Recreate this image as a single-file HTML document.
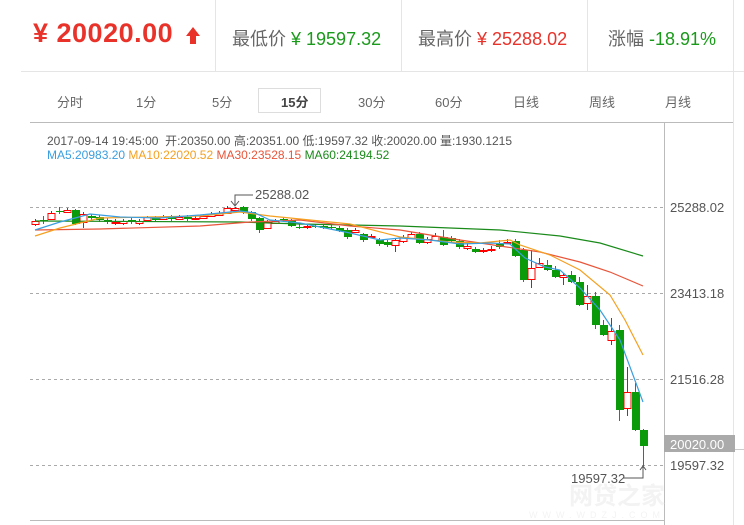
<!DOCTYPE html>
<html><head><meta charset="utf-8"><style>
body{margin:0;width:744px;height:525px;overflow:hidden;background:#fff;font-family:"Liberation Sans","Noto Sans CJK SC",sans-serif;position:relative}
.a{position:absolute;white-space:nowrap}
</style></head><body>
<svg width="744" height="525" style="position:absolute;left:0;top:0" id="s">
<line x1="21" y1="71.5" x2="744" y2="71.5" stroke="#e5e5e5"/>
<line x1="215.5" y1="0" x2="215.5" y2="71" stroke="#e5e5e5"/>
<line x1="401.5" y1="0" x2="401.5" y2="71" stroke="#e5e5e5"/>
<line x1="587.5" y1="0" x2="587.5" y2="71" stroke="#e5e5e5"/>
<line x1="733.5" y1="0" x2="733.5" y2="525" stroke="#e5e5e5"/>
<rect x="258.5" y="88.5" width="62" height="24" fill="#fff" stroke="#ddd"/>
<line x1="30" y1="122.5" x2="733" y2="122.5" stroke="#bbb"/>
<line x1="664.5" y1="122" x2="664.5" y2="525" stroke="#bbb"/>
<line x1="30" y1="520.5" x2="664" y2="520.5" stroke="#bbb"/>
<g stroke="#aaa" stroke-dasharray="3,3">
<line x1="30" y1="207.5" x2="664" y2="207.5"/><line x1="30" y1="293.5" x2="664" y2="293.5"/>
<line x1="30" y1="379.5" x2="664" y2="379.5"/><line x1="30" y1="465.5" x2="664" y2="465.5"/></g>
<rect x="664" y="435" width="71" height="17" fill="#aaa"/>
<line x1="735" y1="449.5" x2="744" y2="449.5" stroke="#ccc"/>
<polygon points="186,36 193,27 200,36 196,36 196,44 190,44 190,36" fill="#e8322a"/>
<g id="c"></g>
<g fill="none" stroke-width="1.2">
<polyline stroke="#1a8a1a" points="35,221 240,222 300,224 400,226 500,230 560,236 600,243 643,256"/>
<polyline stroke="#e8553a" points="35,230 100,229 200,226 250,222 300,220 350,226 400,230 460,240 500,246 540,252 580,262 610,272 643,286"/>
<polyline stroke="#f5a020" points="35,236 60,228 100,218 150,217 200,216 240,212 270,216 300,219 350,224 400,237 450,242 480,243 510,240 520,245 550,255 580,270 610,295 625,320 643,355"/>
<polyline stroke="#3a9ee0" points="35,230 60,222 90,214 120,217 160,218 200,215 240,211 255,213 270,220 300,223 350,233 380,240 400,238 430,240 460,244 490,243 510,244 525,258 545,267 560,270 580,288 600,310 620,340 643,402"/>
</g>
<polyline points="235,205 235,195 253,195" fill="none" stroke="#555"/>
<polyline points="231,201 235,206 239,201" fill="none" stroke="#555"/>
<polyline points="623,478 643,478 643,467" fill="none" stroke="#555"/>
<polyline points="640,470 643,466 646,470" fill="none" stroke="#555"/>
<text x="665" y="504" font-size="24" font-weight="bold" fill="#f3f3f3" font-family="Noto Sans CJK SC,sans-serif" text-anchor="end">网贷之家</text>
<text x="665" y="518" font-size="9" fill="#f3f3f3" text-anchor="end" letter-spacing="5">WWW.WDZJ.COM</text>
</svg>
<div class="a" style="left:33px;top:18px;font-size:27px;font-weight:bold;color:#e8322a;letter-spacing:0.5px">¥ 20020.00</div>
<div class="a" style="left:232px;top:25px;font-size:18px;color:#666">最低价 <span style="color:#1a9a1a">¥ 19597.32</span></div>
<div class="a" style="left:418px;top:25px;font-size:18px;color:#666">最高价 <span style="color:#e8322a">¥ 25288.02</span></div>
<div class="a" style="left:608px;top:25px;font-size:18px;color:#666">涨幅 <span style="color:#1a9a1a">-18.91%</span></div>
<div style="position:absolute;top:92px;font-size:13px;color:#666">
<span class="a" style="left:57px">分时</span><span class="a" style="left:136px">1分</span><span class="a" style="left:212px">5分</span><span class="a" style="left:281px;font-weight:bold;color:#444">15分</span><span class="a" style="left:358px">30分</span><span class="a" style="left:435px">60分</span><span class="a" style="left:513px">日线</span><span class="a" style="left:589px">周线</span><span class="a" style="left:665px">月线</span></div>
<div class="a" style="left:47px;top:132px;font-size:12px;color:#555">2017-09-14 19:45:00 &nbsp;开:20350.00 高:20351.00 低:19597.32 收:20020.00 量:1930.1215</div>
<div class="a" style="left:47px;top:148px;font-size:12px"><span style="color:#3a9ee0">MA5:20983.20</span> <span style="color:#f5a020">MA10:22020.52</span> <span style="color:#e8553a">MA30:23528.15</span> <span style="color:#1a8a1a">MA60:24194.52</span></div>
<div class="a" style="left:255px;top:187px;font-size:13px;color:#555">25288.02</div>
<div class="a" style="left:670px;top:200px;font-size:13px;color:#555">25288.02</div>
<div class="a" style="left:670px;top:286px;font-size:13px;color:#555">23413.18</div>
<div class="a" style="left:670px;top:372px;font-size:13px;color:#555">21516.28</div>
<div class="a" style="left:670px;top:437px;font-size:13px;color:#fff">20020.00</div>
<div class="a" style="left:670px;top:458px;font-size:13px;color:#555">19597.32</div>
<div class="a" style="left:571px;top:471px;font-size:13px;color:#555">19597.32</div>
<script>
var d=[[224,221,219,226],[220,220,216,224],[219,213,211,220],[211,211,207,214],[212,210,208,213],[210,224,209,225],[222,214,212,228],[216,218,214,220],[217,220,215,222],[220,222,218,224],[222,222,219,225],[223,221,219,225],[220,222,218,224],[223,221,219,225],[220,217,216,222],[217,220,216,221],[219,217,215,220],[217,219,215,221],[219,217,215,220],[217,219,215,221],[219,218,216,220],[218,216,214,219],[216,214,212,217],[215,213,211,216],[213,208,206,214],[210,208,207,211],[207,212,206,214],[212,219,211,221],[218,230,217,233],[228,222,220,229],[223,221,219,224],[219,220,217,222],[220,226,219,227],[227,227,224,229],[227,226,224,229],[226,226,224,228],[226,228,224,229],[227,227,225,229],[228,231,226,232],[230,237,228,239],[232,230,228,233],[234,240,233,242],[237,236,234,238],[240,244,238,246],[242,245,240,247],[245,240,238,252],[241,237,235,243],[238,234,232,239],[234,243,232,244],[242,239,237,244],[240,236,233,241],[237,245,230,246],[238,241,236,242],[241,247,239,249],[248,246,243,250],[249,252,247,253],[251,250,248,253],[250,249,246,252],[243,247,240,249],[243,242,239,244],[241,256,239,257],[250,280,248,282],[279,268,250,288],[267,263,258,268],[265,270,260,271],[270,277,266,278],[277,275,273,285],[275,282,271,283],[282,305,277,306],[303,296,285,310],[296,325,292,329],[325,335,320,336],[340,331,318,345],[330,410,325,421],[408,392,367,416],[392,430,383,431],[430,446,429,466]];
var g=document.getElementById('c'),h='';
d.forEach(function(c,i){var x=35+8*i,o=c[0],cl=c[1],up=cl<o||(cl==o&&i%2==0),col=up?'#f00':'#0a9a0a';
var t=Math.min(o,cl),b=Math.max(o,cl);if(b-t<1)b=t+1;
h+='<line x1="'+(x+.5)+'" y1="'+c[2]+'" x2="'+(x+.5)+'" y2="'+c[3]+'" stroke="'+col+'"/>';
if(up)h+='<rect x="'+(x-3)+'" y="'+(t+.5)+'" width="7" height="'+(b-t)+'" fill="#fff" stroke="'+col+'"/>';
else h+='<rect x="'+(x-3)+'" y="'+t+'" width="8" height="'+(b-t)+'" fill="'+col+'"/>';});
g.innerHTML=h;
</script>
</body></html>
